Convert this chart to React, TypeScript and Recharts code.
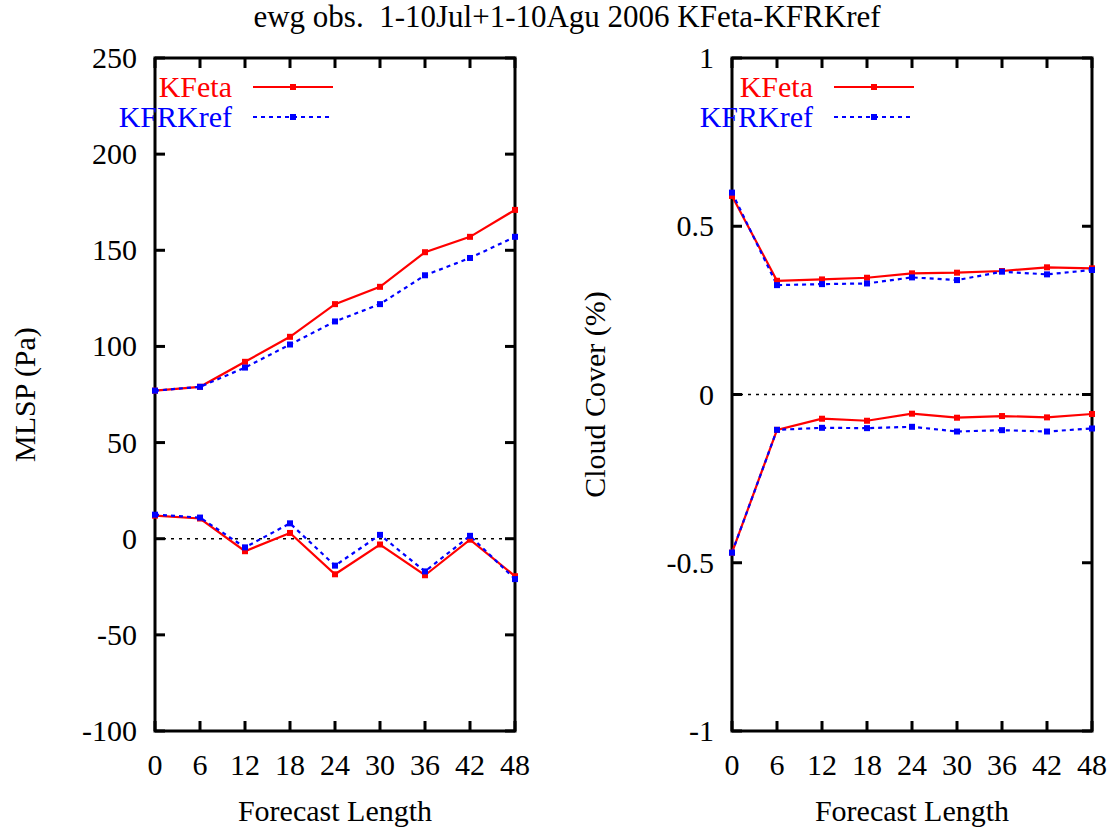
import React from "react";
import {
  LineChart,
  Line,
  XAxis,
  YAxis,
  ReferenceArea,
  ReferenceLine,
} from "recharts";

// forecast hours
const HOURS = [0, 6, 12, 18, 24, 30, 36, 42, 48];

// MLSP (Pa): upper pair and lower pair of curves
const MLSP_KFETA_HIGH = [77, 79, 92, 105, 122, 131, 149, 157, 171];
const MLSP_KFRKREF_HIGH = [77, 79, 89, 101, 113, 122, 137, 146, 157];
const MLSP_KFETA_LOW = [12, 10.5, -6.5, 3, -18.5, -3, -19, -0.5, -19.5];
const MLSP_KFRKREF_LOW = [12.5, 11, -4.5, 8, -14, 2, -17, 1.5, -21];

// Cloud cover
const CC_KFETA_HIGH = [0.59, 0.338, 0.342, 0.347, 0.36, 0.362, 0.367, 0.378, 0.375];
const CC_KFRKREF_HIGH = [0.6, 0.325, 0.328, 0.33, 0.348, 0.34, 0.365, 0.357, 0.37];
const CC_KFETA_LOW = [-0.47, -0.105, -0.072, -0.078, -0.057, -0.069, -0.064, -0.068, -0.058];
const CC_KFRKREF_LOW = [-0.47, -0.105, -0.099, -0.1, -0.096, -0.11, -0.106, -0.11, -0.101];

const MLSP_TICKS = [-100, -50, 0, 50, 100, 150, 200, 250];
const CC_TICKS = [-1, -0.5, 0, 0.5, 1];

const TITLE = "ewg obs.  1-10Jul+1-10Agu 2006 KFeta-KFRKref";
const SERIES = [
  { name: "KFeta", color: "#ff0000", dash: undefined },
  { name: "KFRKref", color: "#0000ff", dash: "4 4" },
];

const FONT = "'Liberation Serif', 'DejaVu Serif', serif";
const FS = 30;

function buildRows(kh: number[], rh: number[], kl: number[], rl: number[]) {
  return HOURS.map((h, i) => ({ h, kh: kh[i], rh: rh[i], kl: kl[i], rl: rl[i] }));
}

const mlspRows = buildRows(MLSP_KFETA_HIGH, MLSP_KFRKREF_HIGH, MLSP_KFETA_LOW, MLSP_KFRKREF_LOW);
const ccRows = buildRows(CC_KFETA_HIGH, CC_KFRKREF_HIGH, CC_KFETA_LOW, CC_KFRKREF_LOW);

const squareDot = (color: string) => (p: any) => (
  <rect key={`d${p.index}`} x={p.cx - 3} y={p.cy - 3} width={6} height={6} fill={color} />
);

interface PanelProps {
  rows: any[];
  width: number;
  plotLeft: number;
  plotRight: number;
  domain: [number, number];
  ticks: number[];
  ylabel: string;
  ylabelX: number;
}

const TOP = 58;
const BOTTOM = 731;
const H = 830;

function Panel({ rows, width, plotLeft, plotRight, domain, ticks, ylabel, ylabelX }: PanelProps) {
  const YTick = (p: any) => (
    <g>
      <line x1={plotLeft} x2={plotLeft + 10} y1={p.y} y2={p.y} stroke="#000" strokeWidth={3} />
      <line x1={plotRight - 10} x2={plotRight} y1={p.y} y2={p.y} stroke="#000" strokeWidth={3} />
      <text x={plotLeft - 18} y={p.y + 10} textAnchor="end" fontSize={FS} fontFamily={FONT} fill="#000">
        {String(p.payload.value)}
      </text>
    </g>
  );
  const XTick = (p: any) => (
    <g>
      <line x1={p.x} x2={p.x} y1={BOTTOM} y2={BOTTOM - 10} stroke="#000" strokeWidth={3} />
      <line x1={p.x} x2={p.x} y1={TOP} y2={TOP + 10} stroke="#000" strokeWidth={3} />
      <text x={p.x} y={BOTTOM + 44} textAnchor="middle" fontSize={FS} fontFamily={FONT} fill="#000">
        {String(p.payload.value)}
      </text>
    </g>
  );
  const cx = (plotLeft + plotRight) / 2;
  const cy = (TOP + BOTTOM) / 2;
  return (
    <LineChart
      width={width}
      height={H}
      data={rows}
      margin={{ top: TOP, right: width - plotRight, bottom: 0, left: 0 }}
    >
      <XAxis
        type="number"
        dataKey="h"
        domain={[0, 48]}
        ticks={HOURS}
        height={H - BOTTOM}
        axisLine={false}
        tickLine={false}
        tick={<XTick />}
        label={() => (
          <text x={cx} y={821} textAnchor="middle" fontSize={FS} fontFamily={FONT} fill="#000">
            Forecast Length
          </text>
        )}
      />
      <YAxis
        type="number"
        domain={domain}
        ticks={ticks}
        width={plotLeft}
        axisLine={false}
        tickLine={false}
        tick={<YTick />}
        label={() => (
          <text
            x={ylabelX}
            y={cy}
            transform={`rotate(-90 ${ylabelX} ${cy})`}
            textAnchor="middle"
            fontSize={FS}
            fontFamily={FONT}
            fill="#000"
          >
            {ylabel}
          </text>
        )}
      />
      <ReferenceLine y={0} stroke="#000" strokeWidth={1.5} strokeDasharray="3 5" />
      <ReferenceArea
        x1={0}
        x2={48}
        y1={domain[0]}
        y2={domain[1]}
        fill="none"
        stroke="#000"
        strokeWidth={3}
        ifOverflow="visible"
      />
      <Line dataKey="kh" stroke={SERIES[0].color} strokeWidth={2.2} dot={squareDot(SERIES[0].color)} isAnimationActive={false} />
      <Line dataKey="kl" stroke={SERIES[0].color} strokeWidth={2.2} dot={squareDot(SERIES[0].color)} isAnimationActive={false} />
      <Line dataKey="rh" stroke={SERIES[1].color} strokeWidth={2.2} strokeDasharray={SERIES[1].dash} dot={squareDot(SERIES[1].color)} isAnimationActive={false} />
      <Line dataKey="rl" stroke={SERIES[1].color} strokeWidth={2.2} strokeDasharray={SERIES[1].dash} dot={squareDot(SERIES[1].color)} isAnimationActive={false} />
    </LineChart>
  );
}

function LegendBox({ left }: { left: number }) {
  return (
    <svg style={{ position: "absolute", left, top: 53 }} width={260} height={90}>
      {SERIES.map((s, i) => {
        const y = 34 + i * 30;
        return (
          <g key={s.name}>
            <text x={120} y={y + 10} textAnchor="end" fontSize={FS} fontFamily={FONT} fill={s.color}>
              {s.name}
            </text>
            <line x1={141} x2={221} y1={y} y2={y} stroke={s.color} strokeWidth={2} strokeDasharray={s.dash} />
            <rect x={178} y={y - 3} width={6} height={6} fill={s.color} />
          </g>
        );
      })}
    </svg>
  );
}

export default function App() {
  return (
    <div style={{ position: "absolute", left: 0, top: 0, width: 1110, height: H, background: "#fff" }}>
      <svg style={{ position: "absolute", left: 0, top: 0 }} width={1110} height={48}>
        <text
          x={567}
          y={27}
          textAnchor="middle"
          fontSize={31}
          fontFamily={FONT}
          fill="#000"
          style={{ whiteSpace: "pre" }}
        >
          {TITLE}
        </text>
      </svg>
      <div style={{ position: "absolute", left: 0, top: 0 }}>
        <Panel
          rows={mlspRows}
          width={560}
          plotLeft={155}
          plotRight={515}
          domain={[-100, 250]}
          ticks={MLSP_TICKS}
          ylabel="MLSP (Pa)"
          ylabelX={35}
        />
      </div>
      <div style={{ position: "absolute", left: 560, top: 0 }}>
        <Panel
          rows={ccRows}
          width={550}
          plotLeft={172}
          plotRight={532}
          domain={[-1, 1]}
          ticks={CC_TICKS}
          ylabel="Cloud Cover (%)"
          ylabelX={45}
        />
      </div>
      <LegendBox left={112} />
      <LegendBox left={693} />
    </div>
  );
}
